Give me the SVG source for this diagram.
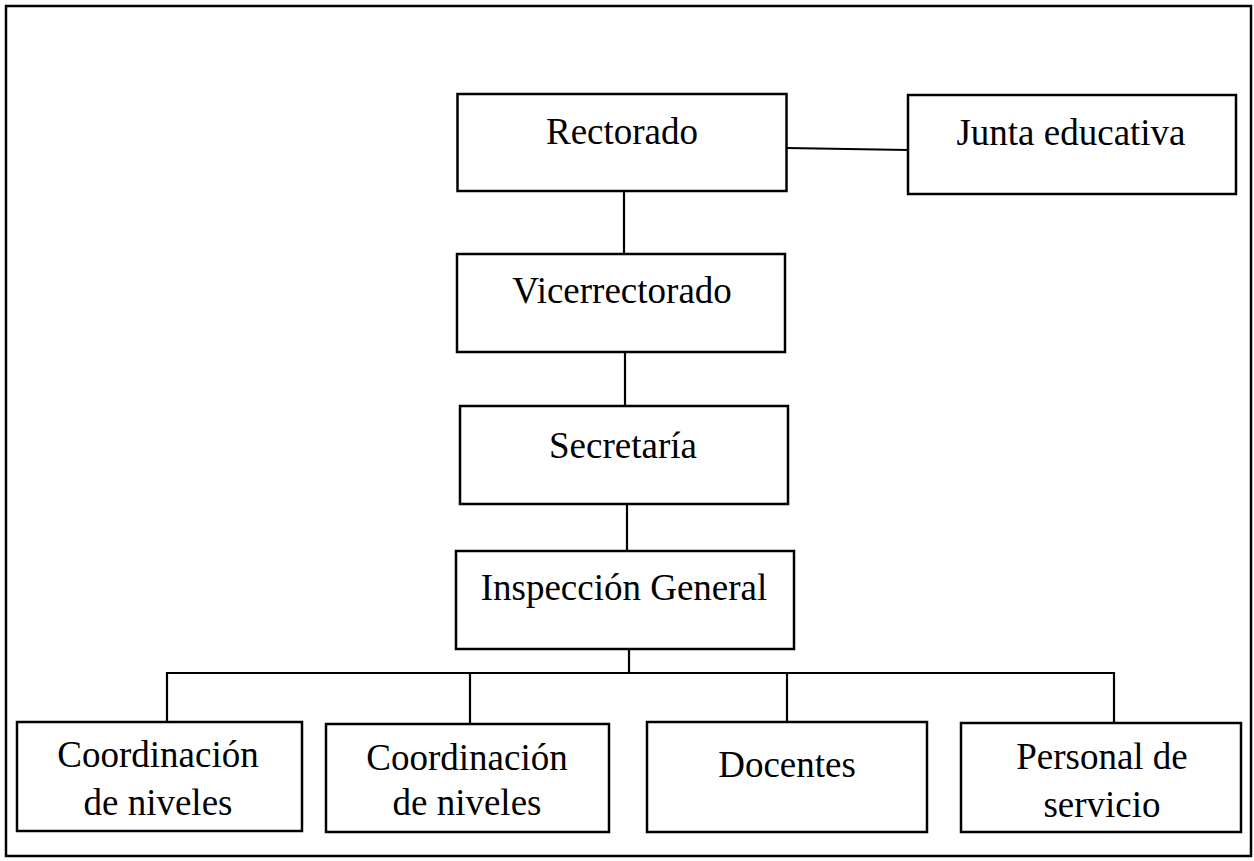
<svg xmlns="http://www.w3.org/2000/svg" width="1254" height="861" viewBox="0 0 1254 861">
<style>
.box{fill:#fff;stroke:#000;stroke-width:2.5}
.lbl{font-family:"Liberation Serif","Times New Roman",serif;font-size:37px;fill:#000;text-anchor:middle}
.con{stroke:#000;stroke-width:2.2;fill:none}
</style>
<rect x="0" y="0" width="1254" height="861" fill="#fff"/>
<rect x="6" y="6" width="1245" height="850" fill="none" stroke="#000" stroke-width="2.5"/>
<g id="connectors">
<line class="con" x1="787" y1="148" x2="908" y2="150"/>
<line class="con" x1="624" y1="191" x2="624" y2="254"/>
<line class="con" x1="625" y1="352" x2="625" y2="406"/>
<line class="con" x1="627" y1="504" x2="627" y2="551"/>
<line class="con" x1="629" y1="649" x2="629" y2="673"/>
<polyline class="con" points="167,723 167,673 1114,673 1114,723"/>
<line class="con" x1="470" y1="673" x2="470" y2="724"/>
<line class="con" x1="787" y1="673" x2="787" y2="722"/>
</g>
<g id="rectorado">
<rect class="box" x="457.5" y="94" width="329" height="97"/>
<text class="lbl" x="622" y="144">Rectorado</text>
</g>
<g id="junta">
<rect class="box" x="908" y="95" width="328" height="99"/>
<text class="lbl" x="1071" y="145">Junta educativa</text>
</g>
<g id="vicerrectorado">
<rect class="box" x="457" y="254" width="328" height="98"/>
<text class="lbl" x="622" y="303">Vicerrectorado</text>
</g>
<g id="secretaria">
<rect class="box" x="460" y="406" width="328" height="98"/>
<text class="lbl" x="623" y="458">Secretaría</text>
</g>
<g id="inspeccion">
<rect class="box" x="456" y="551" width="338" height="98"/>
<text class="lbl" x="624" y="600">Inspección General</text>
</g>
<g id="coord1">
<rect class="box" x="17" y="722" width="285" height="109"/>
<text class="lbl" x="158" y="767">Coordinación</text>
<text class="lbl" x="158" y="815">de niveles</text>
</g>
<g id="coord2">
<rect class="box" x="326" y="724" width="283" height="108"/>
<text class="lbl" x="467" y="770">Coordinación</text>
<text class="lbl" x="467" y="815">de niveles</text>
</g>
<g id="docentes">
<rect class="box" x="647" y="722" width="280" height="110"/>
<text class="lbl" x="787" y="777">Docentes</text>
</g>
<g id="personal">
<rect class="box" x="961" y="723" width="280" height="109"/>
<text class="lbl" x="1102" y="769">Personal de</text>
<text class="lbl" x="1102" y="817">servicio</text>
</g>
</svg>
